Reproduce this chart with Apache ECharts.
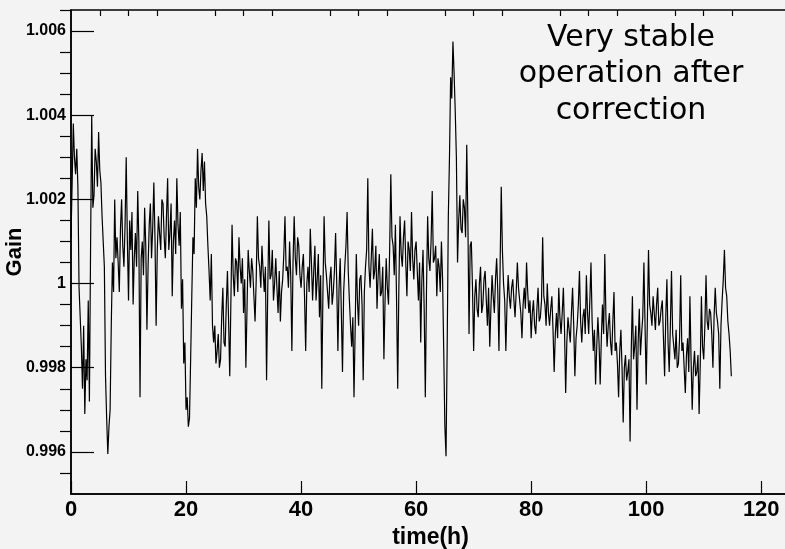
<!DOCTYPE html>
<html>
<head>
<meta charset="utf-8">
<script src="https://cdn.jsdelivr.net/npm/echarts@6/dist/echarts.min.js"></script>
<style>
  html, body { margin: 0; padding: 0; background: #f3f3f3; }
  #chart { width: 785px; height: 549px; }
</style>
</head>
<body>
<div id="chart"></div>
<script>
// readings every 0.2 h, starting at t = 0
const sampleStep = 0.2;
const gain = [
  1.0011, 1.0024, 1.0038, 1.0030, 1.0026, 1.0032, 1.0023, 0.9999, 0.9992, 0.9985,
  0.9975, 0.9990, 0.9969, 0.9982, 0.9977, 0.9996, 0.9972, 1.0008, 1.0040, 1.0018,
  1.0021, 1.0032, 1.0029, 1.0023, 1.0036, 1.0027, 1.0024, 1.0016, 1.0010, 1.0004,
  0.9978, 0.9968, 0.99595, 0.9966, 0.9970, 0.9990, 1.0005, 0.9998, 1.0020, 1.0006,
  1.0011, 1.0005, 0.9998, 1.0013, 1.0020, 1.0009, 1.0004, 1.0014, 1.0030, 1.0010,
  0.9996, 1.0015, 1.0008, 1.0017, 0.9995, 1.0006, 1.0012, 1.0004, 1.0022, 1.0010,
  0.9973, 1.0006, 1.0010, 1.0002, 1.0018, 1.0009, 0.9989, 1.0004, 1.0014, 1.0019,
  1.0006, 1.0013, 1.0024, 1.0011, 0.9990, 1.0008, 1.0016, 1.0012, 1.0008, 1.0020,
  1.0019, 1.0011, 1.0006, 1.0016, 1.0025, 1.0008, 1.0012, 1.0019, 0.9997, 1.0010,
  1.0015, 1.0007, 1.0025, 1.0014, 1.0009, 1.0017, 0.9994, 1.0001, 0.9981, 0.9986,
  0.9970, 0.9973, 0.9966, 0.9968, 0.9982, 0.9997, 1.0011, 1.0007, 1.0025, 1.0018,
  1.0032, 1.0023, 1.0020, 1.0027, 1.0031, 1.0022, 1.0029, 1.0019, 1.0016, 1.0009,
  1.0003, 0.9996, 1.0007, 0.9990, 0.9986, 0.9990, 0.9981, 0.9984, 0.9988, 0.9980,
  0.9982, 0.9992, 0.9999, 0.9986, 0.9985, 0.9995, 1.0003, 0.9991, 0.9978, 0.9996,
  1.0014, 1.0002, 0.9997, 1.0006, 1.0005, 0.9998, 1.0011, 1.0004, 1.0000, 1.0006,
  0.9993, 1.0001, 0.9980, 0.9994, 1.0008, 1.0003, 0.9999, 1.0006, 1.0003, 0.9997,
  0.9991, 1.0001, 1.0016, 1.0006, 1.0004, 0.9999, 1.0009, 1.0003, 0.9998, 1.0004,
  0.9977, 0.9998, 1.0015, 1.0001, 1.0002, 1.0008, 0.9996, 1.0000, 1.0006, 0.9999,
  0.9993, 1.0003, 0.9991, 0.9998, 1.0001, 1.0007, 1.0016, 1.0003, 1.0004, 0.9999,
  1.0010, 1.0002, 0.9984, 1.0005, 1.0016, 1.0006, 1.0002, 1.0011, 1.0009, 1.0002,
  0.9999, 1.0004, 1.0007, 0.9997, 0.9984, 1.0000, 1.0004, 0.9998, 1.0013, 1.0005,
  0.9996, 1.0003, 1.0009, 0.9996, 1.0001, 1.0007, 0.9992, 1.0002, 0.9975, 0.9998,
  1.0016, 1.0005, 1.0002, 0.9998, 0.9994, 1.0001, 1.0004, 0.9995, 0.9998, 1.0003,
  1.0012, 1.0000, 0.9984, 0.9999, 1.0006, 0.9993, 0.9979, 0.9998, 1.0004, 1.0009,
  1.0017, 1.0003, 0.9996, 0.9990, 0.9985, 0.9992, 0.9973, 0.9989, 1.0007, 0.9996,
  0.9990, 1.0001, 1.0002, 0.9995, 0.9977, 0.9998, 1.0004, 1.0008, 1.0025, 1.0004,
  0.9999, 1.0006, 1.0013, 1.0001, 1.0003, 1.0009, 0.9994, 1.0002, 1.0007, 0.9997,
  0.9998, 1.0004, 0.9982, 0.9996, 1.0006, 0.9999, 0.9995, 1.0008, 1.0026, 1.0011,
  1.0009, 1.0002, 1.0014, 0.9996, 0.9975, 0.9999, 1.0016, 1.0007, 1.0004, 1.0011,
  1.0015, 1.0005, 0.9997, 1.0010, 1.0008, 1.0003, 1.0017, 1.0006, 1.0001, 1.0008,
  1.0010, 1.0003, 0.9996, 1.0005, 0.9986, 1.0001, 1.0008, 0.9994, 0.9973, 0.9998,
  1.0016, 1.0006, 1.0003, 1.0010, 1.0022, 1.0005, 1.0006, 1.0009, 0.9997, 1.0006,
  1.0004, 0.9998, 1.0010, 1.0001, 0.9984, 0.9966, 0.9959, 0.9985, 1.0016, 1.0030,
  1.0049, 1.0044, 1.00575, 1.0050, 1.0041, 1.0030, 1.0005, 1.0015, 1.0021, 1.0013,
  1.0012, 1.0020, 1.0018, 1.0011, 1.0033, 1.0015, 0.9988, 1.0009, 1.0010, 0.9999,
  0.9984, 0.9997, 1.0001, 0.9994, 0.9992, 1.0000, 1.0004, 0.9993, 0.9995, 1.0001,
  1.0003, 0.9996, 0.9990, 0.9999, 0.9985, 0.9994, 1.0002, 0.9997, 0.9993, 1.0001,
  1.0006, 0.9998, 0.9984, 1.0004, 1.0023, 1.0008, 1.0000, 0.9996, 0.9984, 0.9995,
  1.0002, 0.9997, 0.9994, 0.9999, 1.0001, 0.9996, 0.9992, 0.9998, 1.0005, 0.9999,
  0.9996, 0.9993, 0.9987, 0.9995, 0.9999, 0.9994, 1.0005, 0.9998, 0.9993, 0.9996,
  0.9987, 0.9993, 0.9996, 0.9990, 0.9988, 0.9994, 0.9999, 0.9991, 0.9992, 0.9996,
  1.0011, 0.9997, 0.9995, 0.9990, 1.0000, 0.9993, 0.9990, 0.9994, 0.9997, 0.9989,
  0.9979, 0.9988, 0.9993, 0.9987, 0.9999, 0.9992, 0.9988, 0.9993, 0.9999, 0.9989,
  0.9974, 0.9986, 0.9992, 0.9989, 0.9986, 0.9993, 0.9999, 0.9990, 0.9978, 0.9987,
  0.9990, 0.9995, 1.0003, 0.9991, 0.9986, 0.9992, 0.9994, 0.9988, 1.0002, 0.9993,
  0.9988, 0.9996, 1.0005, 0.9991, 0.9984, 0.9989, 0.9976, 0.9985, 0.9992, 0.9986,
  0.9976, 0.9987, 0.9995, 0.9988, 1.0007, 0.9992, 0.9985, 0.9990, 0.9993, 0.9986,
  0.9983, 0.9991, 0.9998, 0.9984, 0.9986, 0.9981, 0.9973, 0.9984, 0.9989, 0.9980,
  0.9967, 0.9980, 0.9983, 0.9977, 0.9979, 0.9982, 0.99625, 0.9984, 0.9997, 0.9982,
  0.9985, 0.9990, 0.9970, 0.9986, 0.9994, 0.9983, 0.9988, 0.9992, 1.0005, 0.9990,
  0.9976, 0.9991, 1.0008, 0.9995, 0.9993, 0.9990, 0.9997, 0.9993, 0.9989, 0.9995,
  0.9999, 0.9990, 0.9991, 0.9994, 0.9996, 0.9987, 0.9978, 0.9992, 1.0001, 0.9986,
  0.9979, 0.9990, 1.0003, 0.9988, 0.9985, 0.9982, 0.9989, 0.9980, 0.9981, 0.9987,
  1.0002, 0.9984, 0.9986, 0.9980, 0.9974, 0.9983, 0.9987, 0.9979, 0.9997, 0.9982,
  0.9970, 0.9980, 0.9984, 0.9978, 0.9979, 0.9983, 0.9969, 0.9981, 0.9997, 0.9985,
  0.9982, 0.9990, 1.0002, 0.9991, 0.9989, 0.9994, 0.9993, 0.9988, 0.9980, 0.9992,
  0.9999, 0.9993, 0.9991, 0.9988, 0.9975, 0.9990, 0.9996, 1.0001, 1.0008, 0.9999,
  0.9997, 0.9991, 0.9988, 0.9984, 0.9978
];

const xMajor = [0, 20, 40, 60, 80, 100, 120];
const xMinor = [5, 10, 15, 25, 30, 35, 45, 50, 55, 65, 70, 75, 85, 90, 95, 105, 110, 115];
const yMajor = [0.996, 0.998, 1, 1.002, 1.004, 1.006];
const yMinor = [0.9955, 0.9965, 0.997, 0.9975, 0.9985, 0.999, 0.9995, 1.0005, 1.001, 1.0015,
                1.0025, 1.003, 1.0035, 1.0045, 1.005, 1.0055, 1.0065];
const note = ["Very stable", "operation after", "correction"];

const points = gain.map((v, i) => [i * sampleStep, v]);

const labelFont = { color: "#000", fontFamily: "Liberation Sans", fontWeight: "bold" };

echarts.init(document.getElementById("chart")).setOption({
  backgroundColor: "#f3f3f3",
  animation: false,
  grid: {
    left: 71, right: -5, top: 10, bottom: 55,
    outerBoundsMode: "none", containLabel: false,
    show: true, borderColor: "#000", borderWidth: 1.5, backgroundColor: "transparent"
  },
  xAxis: [
    {
      type: "value", min: 0, max: 125,
      axisLine: { show: true, lineStyle: { color: "#000", width: 1.5 } },
      axisTick: { show: true, inside: true, length: 13, customValues: xMajor, lineStyle: { color: "#000", width: 1.2 } },
      axisLabel: { customValues: xMajor, margin: 5, fontSize: 22, ...labelFont },
      splitLine: { show: false },
      name: "time(h)", nameLocation: "middle", nameGap: 32, nameMoveOverlap: false,
      nameTextStyle: { fontSize: 23, ...labelFont }
    },
    {
      type: "value", min: 0, max: 125,
      axisLine: { show: false },
      axisTick: { show: true, inside: true, length: 6, customValues: xMinor, lineStyle: { color: "#000", width: 1.2 } },
      axisLabel: { show: false },
      splitLine: { show: false }
    }
  ],
  yAxis: [
    {
      type: "value", min: 0.995, max: 1.0065,
      axisLine: { show: true, lineStyle: { color: "#000", width: 1.5 } },
      axisTick: { show: true, inside: true, length: 23, customValues: yMajor, lineStyle: { color: "#000", width: 1.2 } },
      axisLabel: {
        customValues: yMajor, margin: 5, fontSize: 16, ...labelFont,
        formatter: v => String(+Number(v).toFixed(3))
      },
      splitLine: { show: false },
      name: "Gain", nameLocation: "middle", nameGap: 45, nameMoveOverlap: false,
      nameTextStyle: { fontSize: 22, ...labelFont }
    },
    {
      type: "value", min: 0.995, max: 1.0065,
      axisLine: { show: false },
      axisTick: { show: true, inside: true, length: 11, customValues: yMinor, lineStyle: { color: "#000", width: 1.2 } },
      axisLabel: { show: false },
      splitLine: { show: false }
    }
  ],
  graphic: note.map((line, i) => ({
    type: "text", x: 631, y: 38 + i * 36.5,
    style: {
      text: line, align: "center", verticalAlign: "middle",
      font: "30px 'DejaVu Sans'", fill: "#000"
    }
  })),
  series: [{
    type: "line",
    data: points,
    xAxisIndex: 0, yAxisIndex: 0,
    showSymbol: false,
    sampling: null,
    lineStyle: { color: "#000", width: 1.2 }
  }]
});
</script>
</body>
</html>
